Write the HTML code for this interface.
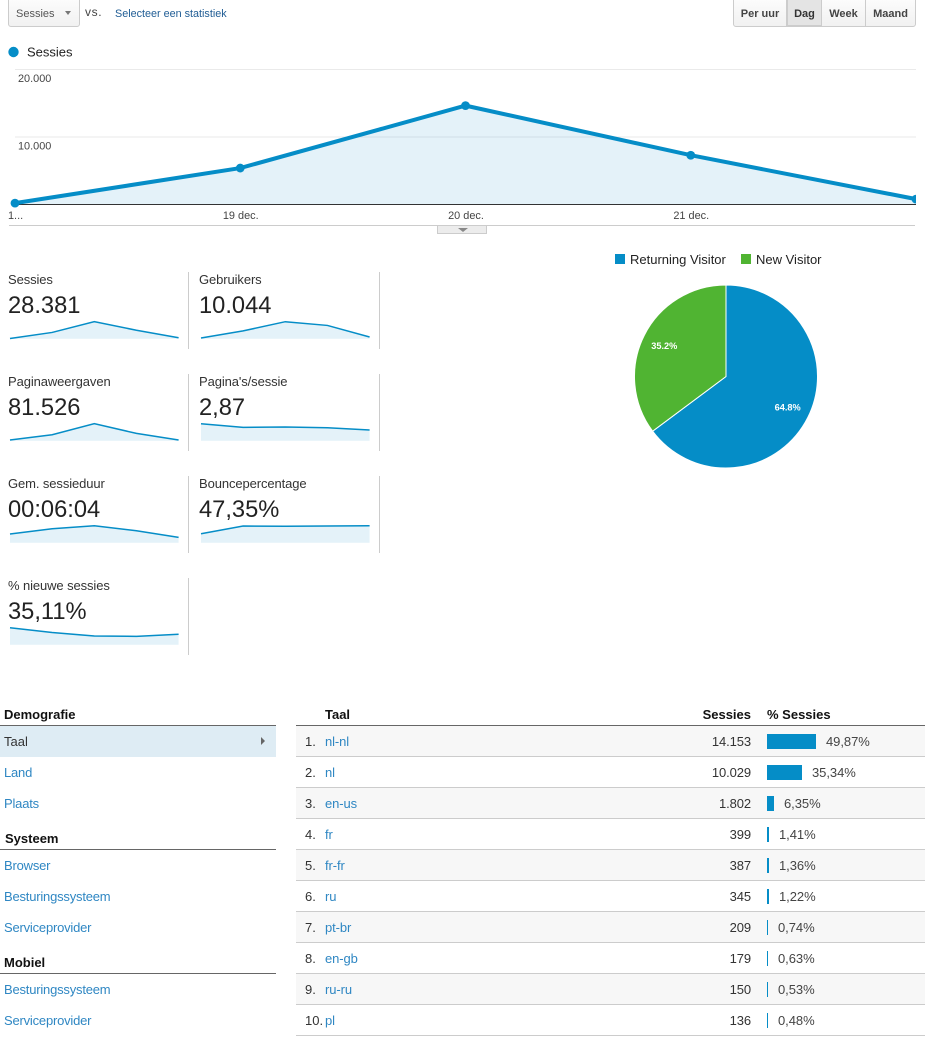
<!DOCTYPE html>
<html lang="nl">
<head>
<meta charset="utf-8">
<title>Sessies overzicht</title>
<style>
html,body{margin:0;padding:0;background:#fff}
body{width:935px;height:1042px;position:relative;overflow:hidden;font-family:"Liberation Sans",Arial,sans-serif;font-size:13px;color:#222}
.a{position:absolute;white-space:nowrap}
svg{position:absolute;display:block}
svg text{font-family:"Liberation Sans",Arial,sans-serif}
.btn{position:absolute;top:-4px;height:31px;box-sizing:border-box;border:1px solid #ccc;background:linear-gradient(#fdfdfd,#f1f1f1);font:bold 11px/35px "Liberation Sans",Arial,sans-serif;color:#444;text-align:center}
.tile{position:absolute;width:180px;height:77px;border-right:1px solid #ccc}
.tile .lab{position:absolute;left:0;top:0;line-height:16px;font-size:13px;letter-spacing:-.1px;white-space:nowrap;color:#333}
.tile .val{position:absolute;left:0;top:20px;line-height:28px;font-size:23.7px;white-space:nowrap;color:#222}
.nav-h{position:absolute;left:0;width:276px;padding-left:4px;box-sizing:border-box;height:20px;font-weight:bold;font-size:13px;line-height:19px;color:#111;border-bottom:1px solid #666;box-sizing:content-box;width:272px}
.nav-l{position:absolute;left:4px;line-height:16px;color:#2f87c3;white-space:nowrap;letter-spacing:-.2px}
.row{position:absolute;left:296px;width:629px;height:30px;border-bottom:1px solid #ccc;line-height:32px}
.row .rk{position:absolute;left:9px;color:#333}
.row .lk{position:absolute;left:29px;color:#2f87c3;letter-spacing:-.1px}
.row .num{position:absolute;right:174px;color:#333;letter-spacing:-.1px}
.row .bar{position:absolute;left:471px;top:8px;height:15px;background:#058dc7}
.row .pct{position:absolute;color:#444;letter-spacing:-.05px}
</style>
</head>
<body>

<div class="btn" style="left:8px;width:72px;border-radius:0 0 3px 3px;text-align:left;font-weight:normal;padding-left:7px;color:#555">Sessies
  <span style="position:absolute;left:56px;top:14px;width:0;height:0;border-left:3.5px solid transparent;border-right:3.5px solid transparent;border-top:4px solid #777"></span>
</div>
<div class="a" style="left:85px;top:4px;font-size:12px;letter-spacing:.6px;line-height:16px;color:#444">vs.</div>
<div class="a" style="left:115px;top:6px;font-size:10.8px;line-height:16px;color:#1f5c94">Selecteer een statistiek</div>

<div class="btn" style="left:733px;width:54px;border-radius:0 0 0 3px">Per uur</div>
<div class="btn" style="left:786px;width:37px;background:#e4e4e4;border:2px solid #ccc;border-top:0;line-height:37px;color:#333">Dag</div>
<div class="btn" style="left:822px;width:44px;border-left:0">Week</div>
<div class="btn" style="left:865px;width:51px;border-radius:0 0 3px 0">Maand</div>

<svg id="main" style="left:0;top:40px" width="935" height="200" viewBox="0 40 935 200"></svg>

<div id="tiles"></div>

<svg id="pie" style="left:600px;top:245px" width="240" height="230" viewBox="600 245 240 230"></svg>

<div class="nav-h" style="top:705px">Demografie</div>
<div class="a" style="left:0;top:726px;width:276px;height:31px;background:#deecf4">
  <span class="a" style="left:4px;top:8px;line-height:16px;color:#333">Taal</span>
  <span class="a" style="left:261px;top:11px;width:0;height:0;border-top:4px solid transparent;border-bottom:4px solid transparent;border-left:4px solid #666"></span>
</div>
<div class="nav-l" style="top:765px">Land</div>
<div class="nav-l" style="top:796px">Plaats</div>
<div class="nav-h" style="top:829px;padding-left:5px;width:271px">Systeem</div>
<div class="nav-l" style="top:858px">Browser</div>
<div class="nav-l" style="top:889px">Besturingssysteem</div>
<div class="nav-l" style="top:920px">Serviceprovider</div>
<div class="nav-h" style="top:953px">Mobiel</div>
<div class="nav-l" style="top:982px">Besturingssysteem</div>
<div class="nav-l" style="top:1013px">Serviceprovider</div>

<div class="a" style="left:296px;top:705px;width:629px;height:20px;border-bottom:1px solid #666;font-weight:bold;line-height:19px;color:#111">
  <span class="a" style="left:29px">Taal</span>
  <span class="a" style="right:174px">Sessies</span>
  <span class="a" style="left:471px">% Sessies</span>
</div>
<div id="rows"></div>

<script>
// Main chart data
var mainDates = ['1...', '19 dec.', '20 dec.', '21 dec.', ''];
var mainSessions = [200, 5400, 14650, 7300, 800];
var mainTicks = [20000, 10000];
var mainTickLabels = ['20.000', '10.000'];

// Sparkline data
var sparkLabels = ['Sessies', 'Gebruikers', 'Paginaweergaven', "Pagina's/sessie", 'Gem. sessieduur', 'Bouncepercentage', '% nieuwe sessies'];
var sparkTotals = ['28.381', '10.044', '81.526', '2,87', '00:06:04', '47,35%', '35,11%'];
var sparkSessies = [200, 5400, 14650, 7300, 800];
var sparkGebruikers = [200, 2300, 5000, 3900, 500];
var sparkWeergaven = [1800, 15400, 43700, 18800, 1800];
var sparkPaginas = [3.6, 2.82, 2.9, 2.75, 2.26];
var sparkDuur = [215, 345, 420, 296, 131];
var sparkBounce = [27, 50, 49.5, 50, 51];
var sparkNieuw = [49, 35, 25, 24, 30];

// Pie data
var pieNames = ['Returning Visitor', 'New Visitor'];
var pieShares = [64.8, 35.2];
var pieColors = ['#058dc7', '#50b432'];

// Table data
var langNames = ['nl-nl', 'nl', 'en-us', 'fr', 'fr-fr', 'ru', 'pt-br', 'en-gb', 'ru-ru', 'pl'];
var langSessions = ['14.153', '10.029', '1.802', '399', '387', '345', '209', '179', '150', '136'];
var langPercents = [49.87, 35.34, 6.35, 1.41, 1.36, 1.22, 0.74, 0.63, 0.53, 0.48];

var NS = 'http://www.w3.org/2000/svg';
function svgEl(parent, tag, attrs, text) {
  var e = document.createElementNS(NS, tag);
  for (var k in attrs) e.setAttribute(k, attrs[k]);
  if (text !== undefined) e.textContent = text;
  parent.appendChild(e);
  return e;
}
function slug(s) {
  return s.toLowerCase().replace(/[^a-z0-9]+/g, '-').replace(/^-|-$/g, '');
}

// ---- main chart ----
(function () {
  var svg = document.getElementById('main');
  var x0 = 15, x1 = 916, yBase = 204.5, yTop = 69.5, yMax = 20000;
  function mx(i) { return x0 + i * (x1 - x0) / (mainSessions.length - 1); }
  function my(v) { return yBase - v / yMax * (yBase - yTop); }

  var dot = svgEl(svg, 'circle', { cx: 13.5, cy: 52, r: 5.2, fill: '#058dc7' });
  
  
  var lt = svgEl(svg, 'text', { x: 27, y: 56.5, 'font-size': 13, fill: '#222' }, 'Sessies');
  
  

  mainTicks.forEach(function (t, i) {
    var g = svgEl(svg, 'line', { x1: x0, x2: x1, y1: my(t), y2: my(t), stroke: '#eaeaea', 'stroke-width': 1 });
    
    
    var l = svgEl(svg, 'text', { x: 18, y: my(t) + 12.5, 'font-size': 10.9, fill: '#444' }, mainTickLabels[i]);
    
    
  });

  var clip = svgEl(svg, 'clipPath', { id: 'mainClip' });
  svgEl(clip, 'rect', { x: 0, y: 40, width: x1, height: 200 });

  var pts = mainSessions.map(function (v, i) { return mx(i) + ',' + my(v); }).join(' ');
  var area = svgEl(svg, 'polygon', { points: x0 + ',' + yBase + ' ' + pts + ' ' + x1 + ',' + yBase, fill: '#058dc7', 'fill-opacity': 0.11 });
  
  
  var axis = svgEl(svg, 'line', { x1: x0, x2: x1, y1: yBase, y2: yBase, stroke: '#333', 'stroke-width': 1 });
  
  
  var line = svgEl(svg, 'polyline', { points: pts, fill: 'none', stroke: '#058dc7', 'stroke-width': 4, 'clip-path': 'url(#mainClip)' });
  
  

  mainSessions.forEach(function (v, i) {
    var c = svgEl(svg, 'circle', { cx: mx(i), cy: my(v), r: 4.4, fill: '#058dc7', 'clip-path': 'url(#mainClip)' });
    
    
    if (mainDates[i]) {
      var tx = svgEl(svg, 'text', { x: i === 0 ? 8 : mx(i) + 0.5, y: 219, 'font-size': 10.9, fill: '#444', 'text-anchor': i === 0 ? 'start' : 'middle' }, mainDates[i]);
      
      
    }
  });

  var bl = svgEl(svg, 'line', { x1: 9, x2: 915, y1: 225.5, y2: 225.5, stroke: '#ccc', 'stroke-width': 1 });
  
  
  var tab = svgEl(svg, 'rect', { x: 437.5, y: 225.5, width: 49, height: 8, fill: '#ececec', stroke: '#ccc', 'stroke-width': 1 });
  
  
  var ar = svgEl(svg, 'polygon', { points: '458,228 468,228 463,232', fill: '#888' });
  
  
})();

// ---- sparkline tiles ----
(function () {
  var holder = document.getElementById('tiles');
  var series = [sparkSessies, sparkGebruikers, sparkWeergaven, sparkPaginas, sparkDuur, sparkBounce, sparkNieuw];
  series.forEach(function (vals, n) {
    var col = n % 2, row = Math.floor(n / 2);
    var tile = document.createElement('div');
    tile.className = 'tile';
    tile.style.left = (col ? 199 : 8) + 'px';
    tile.style.top = (272 + row * 102) + 'px';
    
    

    var lab = document.createElement('div');
    lab.className = 'lab';
    lab.textContent = sparkLabels[n];
    
    
    tile.appendChild(lab);

    var val = document.createElement('div');
    val.className = 'val';
    val.textContent = sparkTotals[n];
    
    
    tile.appendChild(val);

    var svg = document.createElementNS(NS, 'svg');
    svg.setAttribute('width', 180);
    svg.setAttribute('height', 77);
    svg.style.left = '0';
    svg.style.top = '0';
    
    
    var max = Math.max.apply(null, vals);
    var base = 66.7;
    function sx(i) { return 2 + i * 168.6 / (vals.length - 1); }
    function sy(v) { return base - v / max * 17; }
    var pts = vals.map(function (v, i) { return sx(i) + ',' + sy(v); }).join(' ');
    var sa = svgEl(svg, 'polygon', { points: sx(0) + ',' + base + ' ' + pts + ' ' + sx(vals.length - 1) + ',' + base, fill: '#058dc7', 'fill-opacity': 0.11 });
    
    
    var sl = svgEl(svg, 'polyline', { points: pts, fill: 'none', stroke: '#058dc7', 'stroke-width': 1.5 });
    
    
    tile.appendChild(svg);
    holder.appendChild(tile);
  });
})();

// ---- pie ----
(function () {
  var svg = document.getElementById('pie');
  var cx = 726, cy = 376.5, r = 91.5, labelR = 69;
  var total = pieShares.reduce(function (a, b) { return a + b; }, 0);
  var legendX = [615, 741];
  var acc = 0;
  function pt(rad, ang) { return [cx + rad * Math.sin(ang), cy - rad * Math.cos(ang)]; }
  pieShares.forEach(function (v, i) {
    var a0 = acc / total * 2 * Math.PI;
    acc += v;
    var a1 = acc / total * 2 * Math.PI;
    var p0 = pt(r, a0), p1 = pt(r, a1);
    var large = a1 - a0 > Math.PI ? 1 : 0;
    var s = svgEl(svg, 'path', { d: 'M' + cx + ' ' + cy + 'L' + p0[0] + ' ' + p0[1] + 'A' + r + ' ' + r + ' 0 ' + large + ' 1 ' + p1[0] + ' ' + p1[1] + 'Z', fill: pieColors[i], stroke: '#fff', 'stroke-width': 1 });
    
    
  });
  acc = 0;
  pieShares.forEach(function (v, i) {
    var mid = (acc + v / 2) / total * 2 * Math.PI;
    acc += v;
    var p = pt(labelR, mid);
    var t = svgEl(svg, 'text', { x: p[0], y: p[1] + 3.3, 'font-size': 9.2, 'font-weight': 'bold', fill: '#fff', 'text-anchor': 'middle' }, v.toFixed(1) + '%');
    
    
    var sq = svgEl(svg, 'rect', { x: legendX[i], y: 254, width: 10, height: 10, fill: pieColors[i] });
    
    
    var lg = svgEl(svg, 'text', { x: legendX[i] + 15, y: 264, 'font-size': 13, fill: '#222' }, pieNames[i]);
    
    
  });
})();

// ---- table ----
(function () {
  var holder = document.getElementById('rows');
  function barWidth(p) { return Math.ceil(p * 0.98); }
  langNames.forEach(function (name, i) {
    var row = document.createElement('div');
    row.className = 'row';
    row.style.top = (726 + i * 31) + 'px';
    row.style.background = i % 2 === 0 ? '#f7f7f7' : '#fff';
    
    

    var rk = document.createElement('span');
    rk.className = 'rk';
    rk.textContent = (i + 1) + '.';
    
    
    row.appendChild(rk);

    var lk = document.createElement('span');
    lk.className = 'lk';
    lk.textContent = name;
    
    
    row.appendChild(lk);

    var num = document.createElement('span');
    num.className = 'num';
    num.textContent = langSessions[i];
    
    
    row.appendChild(num);

    var w = barWidth(langPercents[i]);
    var bar = document.createElement('span');
    bar.className = 'bar';
    bar.style.width = w + 'px';
    
    
    row.appendChild(bar);

    var pct = document.createElement('span');
    pct.className = 'pct';
    pct.style.left = (471 + w + 10) + 'px';
    pct.textContent = langPercents[i].toFixed(2).replace('.', ',') + '%';
    
    
    row.appendChild(pct);

    holder.appendChild(row);
  });
})();
</script>
</body>
</html>
